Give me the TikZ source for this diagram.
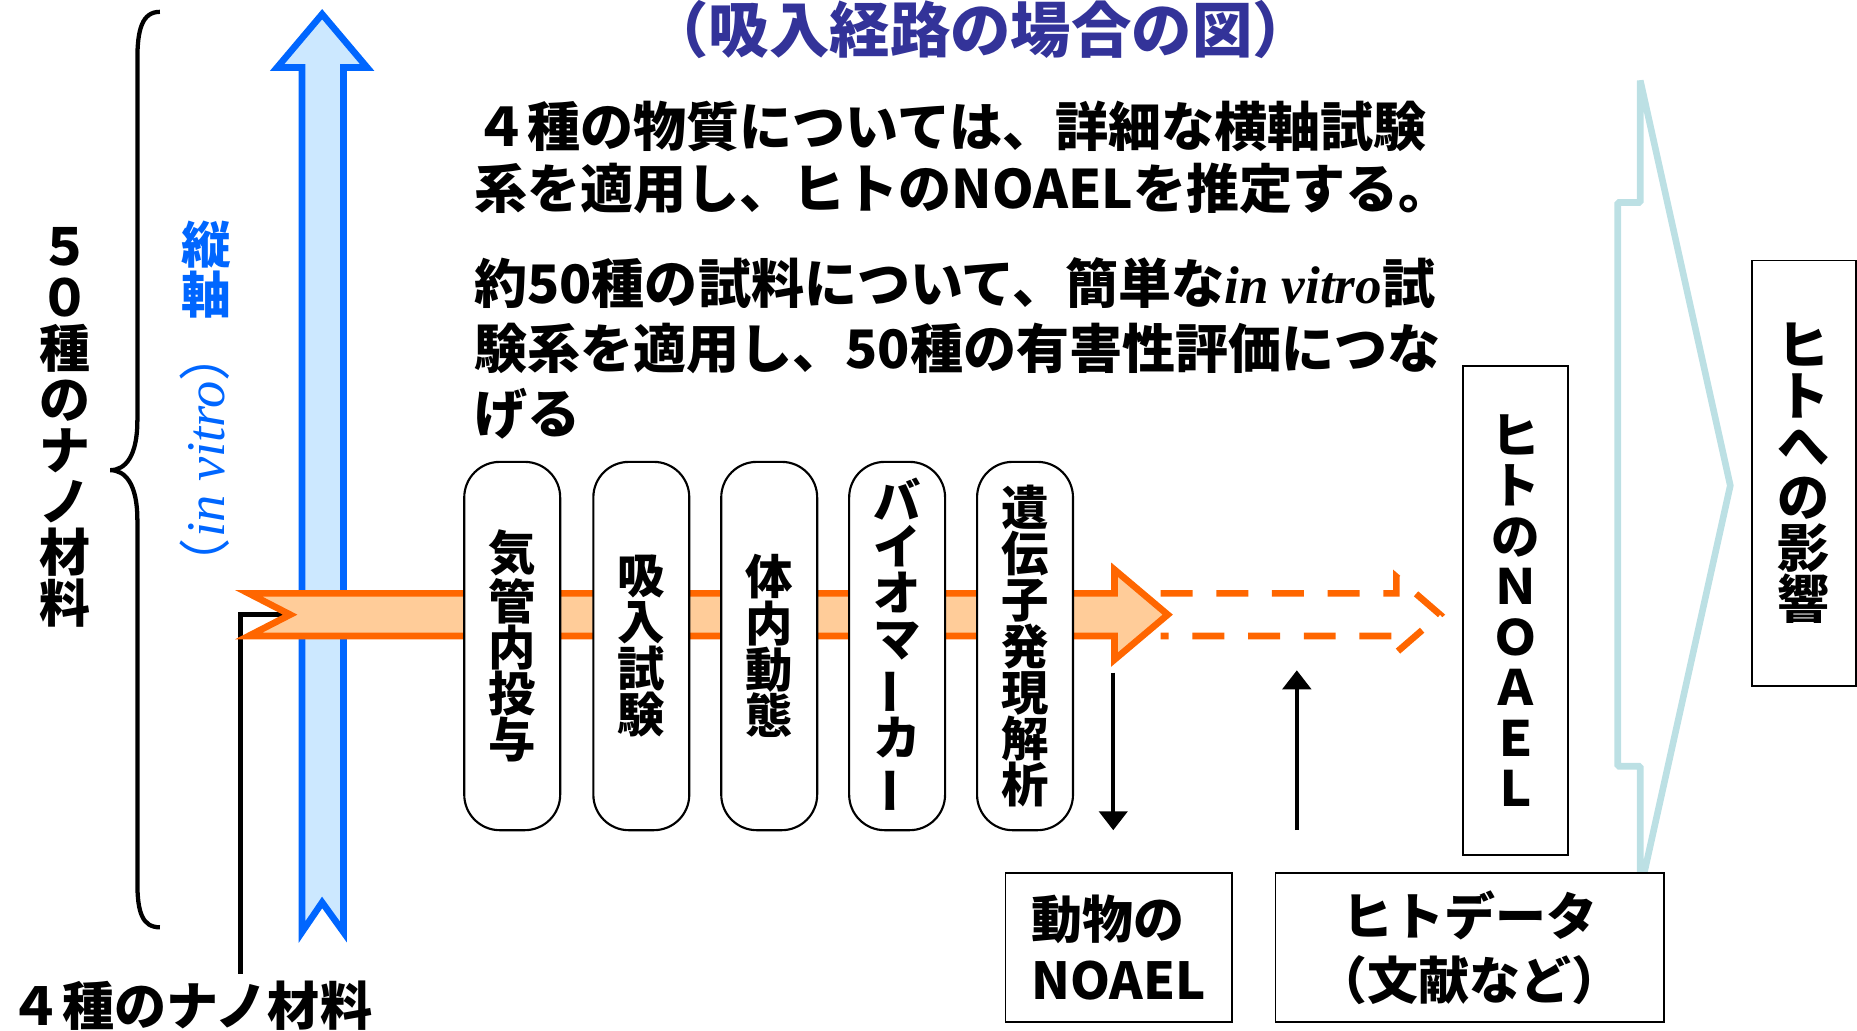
\documentclass[tikz,border=0pt]{standalone}
\usepackage{fontspec}
\usepackage{graphicx}
\usetikzlibrary{arrows.meta}
\newfontfamily\jp{Noto Sans CJK JP}
\newfontfamily\tms{Liberation Serif}
\definecolor{titleblue}{HTML}{333399}
\definecolor{vblue}{HTML}{0066FF}
\definecolor{afill}{HTML}{CCE8FF}
\definecolor{oline}{HTML}{FF6600}
\definecolor{ofill}{HTML}{FFCC99}
\definecolor{chev}{HTML}{BCE0E4}
\newcommand\vbar{\rotatebox[origin=c]{90}{ー}}
\begin{document}
\begin{tikzpicture}[x=0.5pt,y=-0.5pt,
  body/.style={font=\jp\bfseries\fontsize{22.4pt}{26pt}\selectfont, anchor=base west, inner sep=0pt},
  rbox/.style={draw=black, line width=0.9pt, fill=white, rounded corners=15pt, minimum width=40.5pt, minimum height=155.5pt, inner sep=0pt, align=center, font=\jp\bfseries\fontsize{20pt}{19.5pt}\selectfont},
  sbox/.style={draw=black, line width=0.8pt, fill=white, inner sep=0pt, align=center},
  blockarrow/.style={line width=2.8pt, line join=miter},
  thinarrow/.style={line width=1.5pt, -{Triangle[length=8pt,width=12pt]}}
]
\useasboundingbox (0,0) rectangle (1568,870);

% brace
\draw[line width=1.8pt] (135,10) .. controls (120,10) and (116,25) .. (116,50) -- (116,355) .. controls (116,385) and (106,397) .. (93,397) .. controls (106,397) and (116,409) .. (116,439) -- (116,745) .. controls (116,770) and (120,783) .. (135,783);

% blue vertical arrow
\draw[blockarrow, draw=vblue, fill=afill] (272,12) -- (310,57) -- (290,57) -- (290,787) -- (272,762) -- (255,787) -- (255,57) -- (234,57) -- cycle;

% connector from bottom label to orange arrow
\coordinate (lf) at (203,822);
\coordinate (notch) at (245,519);
\draw[line width=2pt] (lf) |- (notch);

% orange horizontal arrow
\draw[blockarrow, draw=oline, fill=ofill] (210,501) -- (941,501) -- (941,481) -- (986,519) -- (941,557) -- (941,537) -- (210,537) -- (notch) -- cycle;
% dashed continuation
\draw[line width=2.8pt, draw=oline, dash pattern=on 13.5pt off 10pt] (980,501) -- (1179,501) -- (1179,487) -- (1216,519) -- (1179,551) -- (1179,537) -- (980,537);

% rounded boxes
\node[rbox] (k1) at (432.5,545.5) {気\\管\\内\\投\\与};
\node[rbox] (k2) at (541.5,545.5) {吸\\入\\試\\験};
\node[rbox] (k3) at (649.5,545.5) {体\\内\\動\\態};
\node[rbox] (k4) at (757.5,545.5) {バ\\イ\\オ\\マ\\\vbar\\カ\\\vbar};
\node[rbox] (k5) at (865.5,545.5) {遺\\伝\\子\\発\\現\\解\\析};

% big light chevron
\draw[line width=2.8pt, draw=chev, line join=bevel] (1385,68) -- (1461,410) -- (1385,752) -- (1385,647) -- (1366,647) -- (1366,171) -- (1385,171) -- cycle;

% boxes
\node[sbox, minimum width=44.5pt, minimum height=206.5pt, font=\jp\bfseries\fontsize{20.5pt}{21.3pt}\selectfont] (hn) at (1279.5,515.5) {ヒ\\ト\\の\\Ｎ\\Ｏ\\Ａ\\Ｅ\\Ｌ};
\node[sbox, minimum width=44pt, minimum height=179.5pt, font=\jp\bfseries\fontsize{22pt}{21.5pt}\selectfont] (he) at (1523,399.5) {ヒ\\ト\\へ\\の\\影\\響};
\node[sbox, minimum width=95.5pt, minimum height=63pt, align=left, font=\jp\bfseries\fontsize{21.5pt}{26pt}\selectfont] (an) at (944.5,800) {動物の\\NOAEL};
\node[sbox, minimum width=164pt, minimum height=63pt, font=\jp\bfseries\fontsize{21.5pt}{27pt}\selectfont] (hd) at (1241,800) {ヒトデータ\\（文献など）};

% thin arrows
\coordinate (d1) at (940,568);
\coordinate (d2) at (940,701);
\draw[thinarrow] (d1) -- (d2);
\coordinate (u1) at (1095,701);
\coordinate (u2) at (1095,566);
\draw[thinarrow] (u1) -- (u2);

% title
\node[font=\jp\bfseries\fontsize{25.5pt}{30pt}\selectfont, text=titleblue, anchor=base, inner sep=0pt] (title) at (828,44) {（吸入経路の場合の図）};

% body text
\node[body] (t1) at (400,124) {４種の物質については、詳細な横軸試験};
\node[body] (t2) at (400,176) {系を適用し、ヒトのNOAELを推定する。};
\node[body] (t3) at (400,256) {約50種の試料について、簡単な{\tms\itshape in vitro}試};
\node[body] (t4) at (400,311) {験系を適用し、50種の有害性評価につな};
\node[body] (t5) at (400,366) {げる};

% left labels
\node[font=\jp\bfseries\fontsize{21.5pt}{21.5pt}\selectfont, align=center, inner sep=0pt] (lt) at (54.5,361) {５\\０\\種\\の\\ナ\\ノ\\材\\料};
\node[font=\jp\bfseries\fontsize{21pt}{21pt}\selectfont, text=vblue, align=center, inner sep=0pt] (ax) at (174,227.5) {縦\\軸};
\node[font=\jp\fontsize{22pt}{22pt}\selectfont, text=vblue, rotate=90, inner sep=0pt] (iv) at (173,388) {（{\tms\itshape\fontsize{23pt}{23pt}\selectfont in vitro}）};

% bottom label
\node[font=\jp\bfseries\fontsize{22pt}{24pt}\selectfont, anchor=base west, inner sep=0pt] (bt) at (8,866) {４種のナノ材料};
\end{tikzpicture}
\end{document}
